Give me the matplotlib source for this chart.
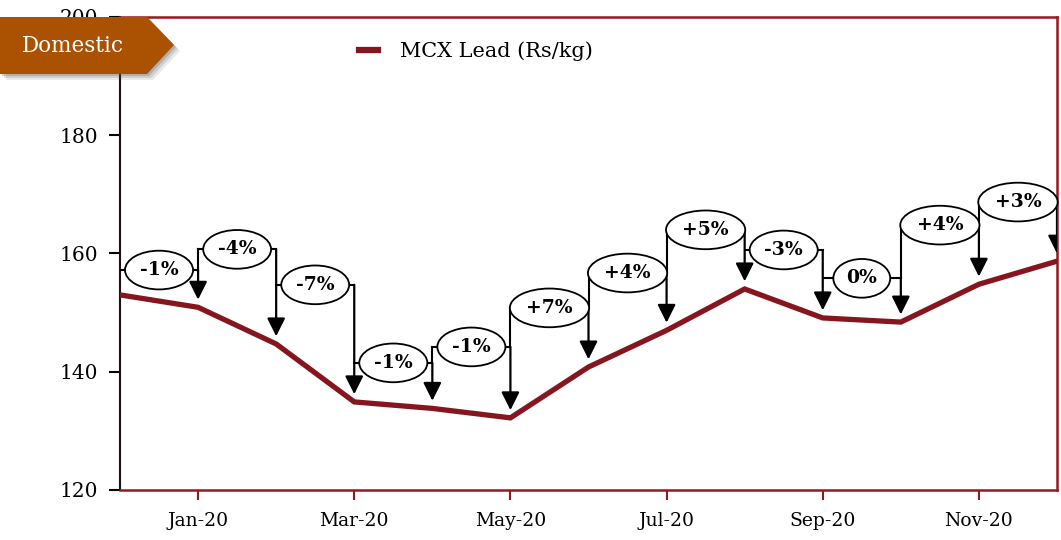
import matplotlib
matplotlib.use("Agg")
import matplotlib.pyplot as plt
from matplotlib.patches import Polygon, FancyArrowPatch

# ── Data ──────────────────────────────────────────────────────────────────────
months = ["Dec-19", "Jan-20", "Feb-20", "Mar-20", "Apr-20", "May-20", "Jun-20",
          "Jul-20", "Aug-20", "Sep-20", "Oct-20", "Nov-20", "Dec-20"]
price = [153.0, 150.9, 144.7, 134.9, 133.8, 132.2, 140.8,
         147.0, 154.0, 149.1, 148.4, 154.8, 158.7]
changes = ["-1%", "-4%", "-7%", "-1%", "-1%", "+7%", "+4%",
           "+5%", "-3%", "0%", "+4%", "+3%"]
# height of each change bracket (price units)
bracket_y = [157.2, 160.7, 154.7, 141.5, 144.2, 150.8, 156.7,
             164.0, 160.6, 155.8, 164.8, 168.7]
yticks = [120, 140, 160, 180, 200]

# ── Style ─────────────────────────────────────────────────────────────────────
LINE = "#85161F"
SPINE = "#96181F"
BADGE = "#AB5102"
W, H = 1061, 540
plt.rcParams["font.family"] = ["DejaVu Serif"]

fig = plt.figure(figsize=(W / 100, H / 100), dpi=100)
ax = fig.add_axes([120 / W, 1 - 490 / H, (1057 - 120) / W, (490 - 17) / H])

x = list(range(len(months)))
ax.plot(x, price, color=LINE, lw=3.8, solid_joinstyle="miter",
        label="MCX Lead (Rs/kg)", zorder=3)

ax.set_xlim(0, len(months) - 1)
ax.set_ylim(120, 200)
ax.set_yticks(yticks)
ax.set_xticks(x[1::2])
ax.set_xticklabels(months[1::2], fontsize=13.5)
ax.tick_params(axis="y", direction="out", length=8, width=1.5, colors="black",
               labelsize=14.5, pad=8)
ax.tick_params(axis="x", direction="out", length=7, width=1.5, color=SPINE,
               labelcolor="black", pad=9)

ax.spines["left"].set_color("#1a1010")
ax.spines["left"].set_linewidth(1.5)
for s in ["top", "right", "bottom"]:
    ax.spines[s].set_color(SPINE)
    ax.spines[s].set_linewidth(1.8)

# ── Change brackets ───────────────────────────────────────────────────────────
for i, lab in enumerate(changes):
    x0, x1 = i, i + 1
    h = bracket_y[i]
    ax.plot([x0, x1], [h, h], color="black", lw=1.5, zorder=4)
    if i > 0 and h > bracket_y[i - 1]:
        ax.plot([x0, x0], [h, bracket_y[i - 1]], color="black", lw=1.5, zorder=4)
    arr = FancyArrowPatch((x1, h), (x1, price[x1] + 1.3),
                          arrowstyle="-|>,head_length=1.0,head_width=0.5",
                          mutation_scale=11, color="black", lw=1.6,
                          shrinkA=0, shrinkB=0, zorder=4)
    ax.add_patch(arr)
    ax.text((x0 + x1) / 2, h, lab, ha="center", va="center", fontsize=13.5,
            fontweight="bold", zorder=6,
            bbox=dict(boxstyle="ellipse,pad=0.25", fc="white", ec="black", lw=1.3))

# ── Legend ────────────────────────────────────────────────────────────────────
leg = ax.legend(loc="center left", bbox_to_anchor=(340 / W, 1 - 51 / H),
                bbox_transform=fig.transFigure, frameon=False, fontsize=15,
                handlelength=0.9, handletextpad=1.1)
leg.get_lines()[0].set_linewidth(4.5)

# ── "Domestic" badge ──────────────────────────────────────────────────────────
def fig_pts(pts, dx=0, dy=0):
    return [((px + dx) / W, 1 - (py + dy) / H) for px, py in pts]

badge = [(0, 17), (147, 17), (174, 45), (147, 74), (0, 74)]
for k, a in [(6, 0.12), (4, 0.18), (2, 0.25)]:
    fig.patches.append(Polygon(fig_pts(badge, k, k), closed=True, fc="#555555",
                               ec="none", alpha=a, transform=fig.transFigure,
                               zorder=9))
fig.patches.append(Polygon(fig_pts(badge), closed=True, fc=BADGE, ec="none",
                           transform=fig.transFigure, zorder=10))
fig.text(73 / W, 1 - 46 / H, "Domestic", color="white", fontsize=15.5,
         ha="center", va="center", zorder=11)

fig.savefig("out.png", dpi=100)
